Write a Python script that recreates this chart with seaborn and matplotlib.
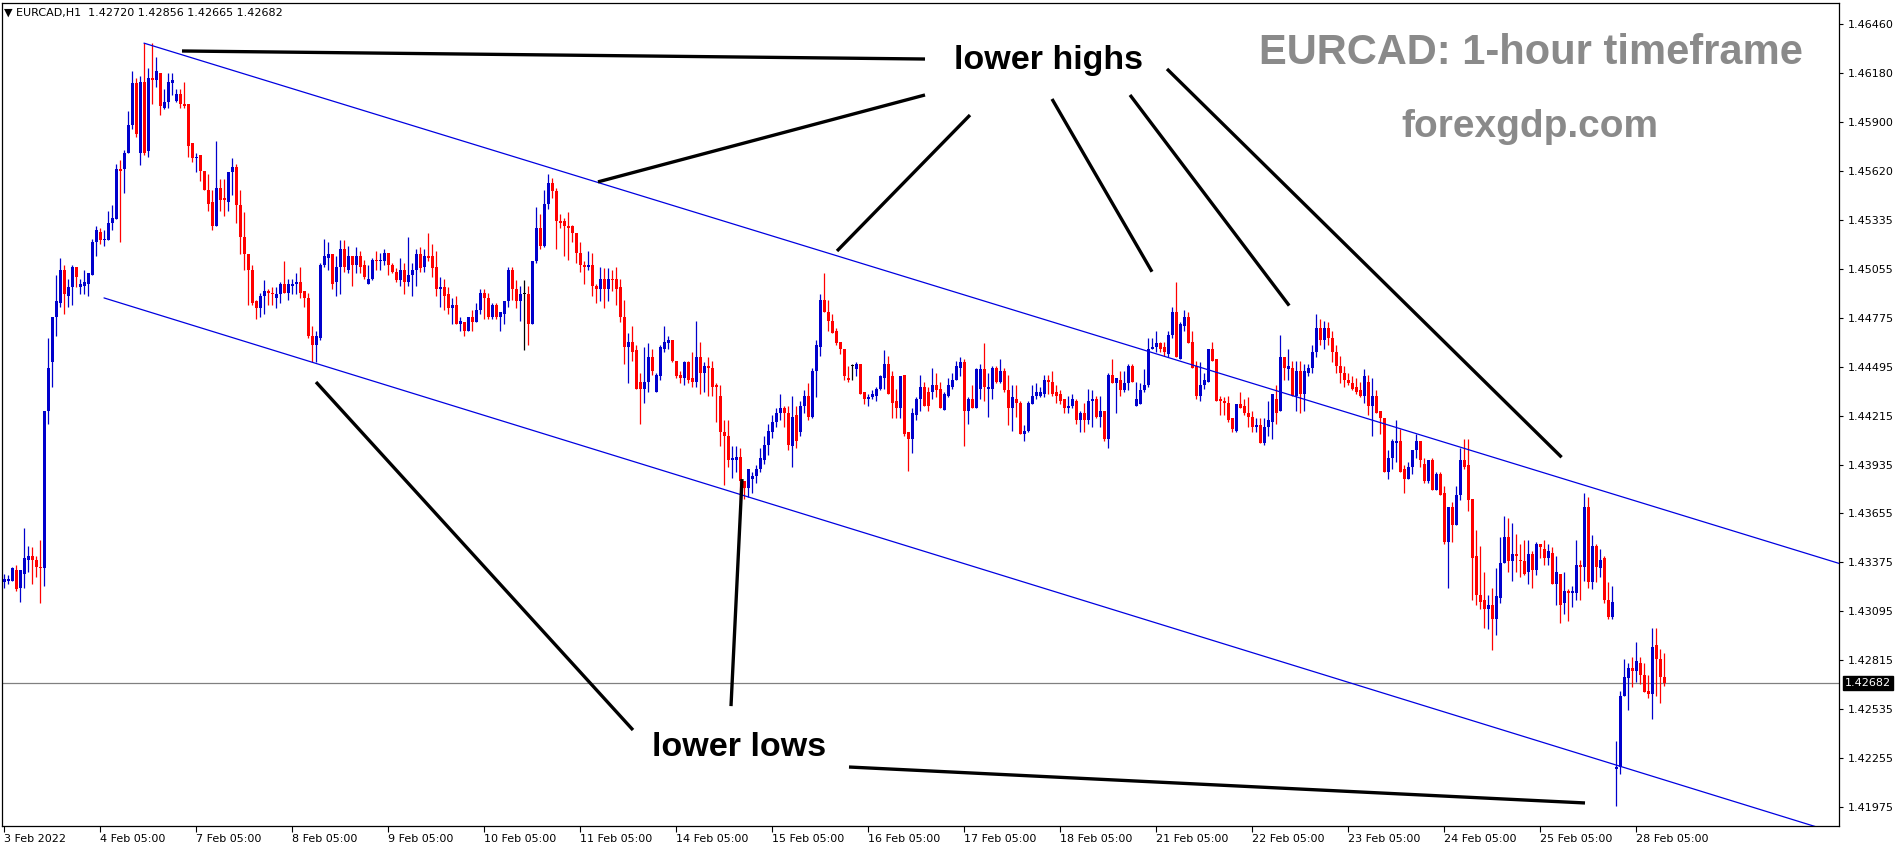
import numpy as np
import pandas as pd
import matplotlib
matplotlib.use('Agg')
import matplotlib.pyplot as plt
import matplotlib.transforms as mtransforms
import seaborn as sns

# EURCAD H1 candles, 3 Feb 05:00 .. 28 Feb 12:00
opens = [
    1.4326, 1.4327, 1.4327, 1.4333, 1.4323, 1.4331, 1.4339, 1.4341, 1.4339, 1.4335,
    1.4334, 1.4424, 1.4452, 1.4478, 1.4486, 1.4505, 1.4490, 1.4495, 1.4507, 1.4495,
    1.4496, 1.4497, 1.4502, 1.4521, 1.4527, 1.4522, 1.4522, 1.4532, 1.4534, 1.4563,
    1.4563, 1.4572, 1.4588, 1.4612, 1.4572, 1.4613, 1.4573, 1.4615, 1.4614, 1.4618,
    1.4598, 1.4601, 1.4612, 1.4602, 1.4606, 1.4600, 1.4600, 1.4578, 1.4569, 1.4571,
    1.4562, 1.4551, 1.4544, 1.4530, 1.4552, 1.4546, 1.4544, 1.4561, 1.4564, 1.4542,
    1.4524, 1.4514, 1.4505, 1.4487, 1.4483, 1.4490, 1.4493, 1.4492, 1.4489, 1.4491,
    1.4497, 1.4492, 1.4496, 1.4497, 1.4498, 1.4493, 1.4489, 1.4467, 1.4462, 1.4466,
    1.4508, 1.4512, 1.4514, 1.4498, 1.4507, 1.4517, 1.4505, 1.4513, 1.4508, 1.4513,
    1.4508, 1.4497, 1.4500, 1.4511, 1.4510, 1.4510, 1.4515, 1.4508, 1.4504, 1.4499,
    1.4505, 1.4498, 1.4502, 1.4505, 1.4514, 1.4507, 1.4513, 1.4513, 1.4507, 1.4494,
    1.4495, 1.4491, 1.4483, 1.4485, 1.4474, 1.4475, 1.4470, 1.4478, 1.4475, 1.4482,
    1.4492, 1.4489, 1.4478, 1.4485, 1.4478, 1.4480, 1.4487, 1.4505, 1.4494, 1.4487,
    1.4491, 1.4491, 1.4474, 1.4510, 1.4529, 1.4519, 1.4543, 1.4555, 1.4550, 1.4533,
    1.4533, 1.4530, 1.4530, 1.4526, 1.4515, 1.4508, 1.4507, 1.4508, 1.4496, 1.4494,
    1.4500, 1.4494, 1.4500, 1.4500, 1.4495, 1.4478, 1.4461, 1.4464, 1.4459, 1.4441,
    1.4437, 1.4441, 1.4455, 1.4435, 1.4444, 1.4460, 1.4463, 1.4465, 1.4453, 1.4445,
    1.4443, 1.4452, 1.4443, 1.4441, 1.4455, 1.4446, 1.4450, 1.4449, 1.4439, 1.4433,
    1.4412, 1.4410, 1.4396, 1.4396, 1.4398, 1.4384, 1.4380, 1.4385, 1.4387, 1.4391,
    1.4396, 1.4405, 1.4412, 1.4418, 1.4423, 1.4426, 1.4423, 1.4404, 1.4422, 1.4412,
    1.4427, 1.4433, 1.4421, 1.4447, 1.4461, 1.4488, 1.4481, 1.4476, 1.4470, 1.4464,
    1.4460, 1.4443, 1.4450, 1.4448, 1.4451, 1.4435, 1.4431, 1.4432, 1.4433, 1.4437,
    1.4443, 1.4451, 1.4444, 1.4430, 1.4426, 1.4445, 1.4412, 1.4408, 1.4422, 1.4431,
    1.4438, 1.4435, 1.4435, 1.4439, 1.4437, 1.4425, 1.4433, 1.4438, 1.4442, 1.4449,
    1.4452, 1.4424, 1.4431, 1.4426, 1.4437, 1.4448, 1.4437, 1.4437, 1.4449, 1.4441,
    1.4447, 1.4436, 1.4426, 1.4431, 1.4429, 1.4411, 1.4413, 1.4428, 1.4433, 1.4433,
    1.4434, 1.4442, 1.4441, 1.4435, 1.4434, 1.4431, 1.4426, 1.4427, 1.4430, 1.4419,
    1.4423, 1.4419, 1.4430, 1.4431, 1.4421, 1.4424, 1.4408, 1.4445, 1.4440, 1.4442,
    1.4436, 1.4440, 1.4450, 1.4427, 1.4428, 1.4436, 1.4439, 1.4460, 1.4461, 1.4463,
    1.4461, 1.4457, 1.4468, 1.4481, 1.4454, 1.4473, 1.4478, 1.4464, 1.4450, 1.4433,
    1.4439, 1.4441, 1.4460, 1.4454, 1.4431, 1.4430, 1.4429, 1.4420, 1.4413, 1.4428,
    1.4427, 1.4423, 1.4421, 1.4415, 1.4416, 1.4406, 1.4415, 1.4418, 1.4431, 1.4424,
    1.4455, 1.4448, 1.4449, 1.4433, 1.4447, 1.4434, 1.4446, 1.4449, 1.4458, 1.4472,
    1.4465, 1.4472, 1.4466, 1.4458, 1.4450, 1.4446, 1.4442, 1.4440, 1.4438, 1.4436,
    1.4433, 1.4441, 1.4427, 1.4433, 1.4424, 1.4420, 1.4389, 1.4397, 1.4406, 1.4407,
    1.4391, 1.4385, 1.4392, 1.4402, 1.4407, 1.4394, 1.4384, 1.4396, 1.4379, 1.4388,
    1.4377, 1.4349, 1.4369, 1.4359, 1.4376, 1.4396, 1.4393, 1.4374, 1.4341, 1.4319,
    1.4316, 1.4311, 1.4313, 1.4305, 1.4317, 1.4337, 1.4352, 1.4338, 1.4342, 1.4339,
    1.4338, 1.4332, 1.4342, 1.4333, 1.4348, 1.4345, 1.4340, 1.4343, 1.4325, 1.4331,
    1.4314, 1.4321, 1.4320, 1.4320, 1.4336, 1.4335, 1.4369, 1.4326, 1.4347, 1.4334,
    1.4340, 1.4316, 1.4306, 1.4219, 1.4220, 1.4261, 1.4271, 1.4277, 1.4275, 1.4280,
    1.4273, 1.4264, 1.4262, 1.4290, 1.4282, 1.42720,
]
highs = [
    1.4331, 1.4330, 1.4335, 1.4336, 1.4333, 1.4357, 1.4347, 1.4346, 1.4341, 1.4350,
    1.4424, 1.4466, 1.4478, 1.4502, 1.4512, 1.4508, 1.4500, 1.4508, 1.4507, 1.4500,
    1.4505, 1.4503, 1.4523, 1.4530, 1.4529, 1.4528, 1.4539, 1.4542, 1.4566, 1.4568,
    1.4574, 1.4596, 1.4619, 1.4615, 1.4616, 1.4635, 1.4621, 1.4635, 1.4627, 1.4618,
    1.4609, 1.4618, 1.4618, 1.4609, 1.4609, 1.4613, 1.4600, 1.4578, 1.4572, 1.4571,
    1.4562, 1.4560, 1.4551, 1.4579, 1.4557, 1.4557, 1.4561, 1.4569, 1.4566, 1.4551,
    1.4538, 1.4514, 1.4508, 1.4488, 1.4492, 1.4499, 1.4494, 1.4495, 1.4495, 1.4498,
    1.4510, 1.4500, 1.4500, 1.4503, 1.4507, 1.4493, 1.4492, 1.4473, 1.4470, 1.4509,
    1.4523, 1.4521, 1.4514, 1.4513, 1.4522, 1.4522, 1.4519, 1.4513, 1.4518, 1.4516,
    1.4511, 1.4508, 1.4512, 1.4516, 1.4515, 1.4517, 1.4515, 1.4509, 1.4506, 1.4512,
    1.4509, 1.4524, 1.4509, 1.4517, 1.4518, 1.4517, 1.4526, 1.4520, 1.4516, 1.4501,
    1.4500, 1.4495, 1.4489, 1.4490, 1.4478, 1.4475, 1.4478, 1.4482, 1.4486, 1.4494,
    1.4494, 1.4492, 1.4486, 1.4486, 1.4481, 1.4487, 1.4507, 1.4507, 1.4499, 1.4496,
    1.4499, 1.4496, 1.4510, 1.4541, 1.4537, 1.4551, 1.4560, 1.4558, 1.4552, 1.4537,
    1.4535, 1.4538, 1.4531, 1.4526, 1.4521, 1.4510, 1.4516, 1.4515, 1.4497, 1.4507,
    1.4506, 1.4506, 1.4505, 1.4507, 1.4500, 1.4488, 1.4469, 1.4473, 1.4462, 1.4446,
    1.4461, 1.4463, 1.4460, 1.4446, 1.4462, 1.4473, 1.4467, 1.4465, 1.4453, 1.4447,
    1.4453, 1.4453, 1.4458, 1.4476, 1.4464, 1.4452, 1.4455, 1.4453, 1.4440, 1.4439,
    1.4419, 1.4419, 1.4404, 1.4404, 1.4403, 1.4384, 1.4391, 1.4389, 1.4393, 1.4403,
    1.4410, 1.4417, 1.4422, 1.4426, 1.4434, 1.4427, 1.4427, 1.4433, 1.4427, 1.4430,
    1.4436, 1.4440, 1.4449, 1.4465, 1.4491, 1.4503, 1.4488, 1.4480, 1.4472, 1.4464,
    1.4460, 1.4450, 1.4451, 1.4452, 1.4451, 1.4435, 1.4434, 1.4436, 1.4438, 1.4445,
    1.4459, 1.4456, 1.4447, 1.4437, 1.4444, 1.4445, 1.4412, 1.4426, 1.4432, 1.4445,
    1.4441, 1.4438, 1.4449, 1.4446, 1.4441, 1.4435, 1.4443, 1.4446, 1.4453, 1.4455,
    1.4454, 1.4432, 1.4439, 1.4449, 1.4451, 1.4463, 1.4446, 1.4450, 1.4450, 1.4454,
    1.4449, 1.4445, 1.4439, 1.4439, 1.4430, 1.4416, 1.4430, 1.4439, 1.4440, 1.4438,
    1.4445, 1.4445, 1.4447, 1.4439, 1.4436, 1.4431, 1.4433, 1.4434, 1.4431, 1.4424,
    1.4429, 1.4437, 1.4436, 1.4433, 1.4433, 1.4424, 1.4446, 1.4454, 1.4443, 1.4447,
    1.4447, 1.4451, 1.4451, 1.4441, 1.4440, 1.4448, 1.4466, 1.4466, 1.4470, 1.4464,
    1.4464, 1.4470, 1.4484, 1.4498, 1.4475, 1.4482, 1.4481, 1.4470, 1.4453, 1.4452,
    1.4446, 1.4460, 1.4464, 1.4454, 1.4433, 1.4432, 1.4433, 1.4420, 1.4428, 1.4435,
    1.4431, 1.4432, 1.4424, 1.4420, 1.4420, 1.4420, 1.4430, 1.4434, 1.4439, 1.4468,
    1.4455, 1.4460, 1.4453, 1.4453, 1.4453, 1.4451, 1.4451, 1.4462, 1.4480, 1.4477,
    1.4476, 1.4475, 1.4470, 1.4462, 1.4456, 1.4450, 1.4446, 1.4444, 1.4443, 1.4441,
    1.4448, 1.4445, 1.4443, 1.4436, 1.4424, 1.4420, 1.4402, 1.4408, 1.4419, 1.4414,
    1.4393, 1.4395, 1.4402, 1.4411, 1.4407, 1.4397, 1.4396, 1.4397, 1.4389, 1.4389,
    1.4381, 1.4369, 1.4372, 1.4381, 1.4403, 1.4408, 1.4408, 1.4374, 1.4356, 1.4347,
    1.4332, 1.4319, 1.4323, 1.4334, 1.4352, 1.4364, 1.4363, 1.4360, 1.4354, 1.4348,
    1.4350, 1.4350, 1.4344, 1.4349, 1.4348, 1.4350, 1.4348, 1.4346, 1.4341, 1.4331,
    1.4332, 1.4322, 1.4324, 1.4350, 1.4339, 1.4377, 1.4375, 1.4353, 1.4348, 1.4345,
    1.4341, 1.4326, 1.4324, 1.4235, 1.4264, 1.4282, 1.4280, 1.4283, 1.4292, 1.4283,
    1.4280, 1.4273, 1.4300, 1.4300, 1.4288, 1.42856,
]
lows = [
    1.4323, 1.4325, 1.4327, 1.4321, 1.4315, 1.4323, 1.4332, 1.4325, 1.4329, 1.4314,
    1.4324, 1.4417, 1.4438, 1.4467, 1.4484, 1.4480, 1.4484, 1.4485, 1.4495, 1.4491,
    1.4491, 1.4490, 1.4502, 1.4513, 1.4520, 1.4519, 1.4522, 1.4528, 1.4534, 1.4521,
    1.4549, 1.4572, 1.4586, 1.4581, 1.4565, 1.4571, 1.4570, 1.4600, 1.4610, 1.4594,
    1.4597, 1.4598, 1.4605, 1.4601, 1.4598, 1.4598, 1.4570, 1.4567, 1.4561, 1.4556,
    1.4551, 1.4539, 1.4528, 1.4530, 1.4539, 1.4536, 1.4539, 1.4548, 1.4532, 1.4514,
    1.4505, 1.4485, 1.4485, 1.4477, 1.4478, 1.4480, 1.4485, 1.4485, 1.4483, 1.4486,
    1.4492, 1.4488, 1.4491, 1.4491, 1.4489, 1.4484, 1.4466, 1.4452, 1.4452, 1.4465,
    1.4507, 1.4505, 1.4494, 1.4490, 1.4491, 1.4504, 1.4503, 1.4496, 1.4503, 1.4503,
    1.4500, 1.4497, 1.4499, 1.4505, 1.4505, 1.4508, 1.4502, 1.4503, 1.4498, 1.4496,
    1.4491, 1.4496, 1.4490, 1.4496, 1.4504, 1.4504, 1.4510, 1.4501, 1.4490, 1.4484,
    1.4482, 1.4480, 1.4474, 1.4474, 1.4470, 1.4467, 1.4470, 1.4470, 1.4475, 1.4480,
    1.4477, 1.4477, 1.4477, 1.4477, 1.4470, 1.4474, 1.4484, 1.4488, 1.4483, 1.4476,
    1.4459, 1.4462, 1.4474, 1.4509, 1.4517, 1.4518, 1.4540, 1.4546, 1.4517, 1.4529,
    1.4513, 1.4511, 1.4521, 1.4509, 1.4504, 1.4497, 1.4505, 1.4490, 1.4486, 1.4487,
    1.4483, 1.4487, 1.4493, 1.4485, 1.4475, 1.4451, 1.4440, 1.4453, 1.4437, 1.4417,
    1.4429, 1.4435, 1.4445, 1.4435, 1.4442, 1.4458, 1.4460, 1.4452, 1.4443, 1.4440,
    1.4439, 1.4440, 1.4438, 1.4438, 1.4434, 1.4435, 1.4433, 1.4433, 1.4418, 1.4404,
    1.4382, 1.4392, 1.4386, 1.4389, 1.4372, 1.4374, 1.4375, 1.4377, 1.4383, 1.4389,
    1.4394, 1.4399, 1.4409, 1.4415, 1.4419, 1.4415, 1.4402, 1.4392, 1.4403, 1.4410,
    1.4423, 1.4419, 1.4420, 1.4432, 1.4456, 1.4481, 1.4470, 1.4469, 1.4462, 1.4457,
    1.4442, 1.4441, 1.4442, 1.4444, 1.4434, 1.4428, 1.4427, 1.4431, 1.4430, 1.4436,
    1.4437, 1.4434, 1.4420, 1.4420, 1.4420, 1.4410, 1.4390, 1.4400, 1.4419, 1.4424,
    1.4427, 1.4424, 1.4431, 1.4432, 1.4426, 1.4425, 1.4432, 1.4437, 1.4442, 1.4444,
    1.4404, 1.4417, 1.4426, 1.4426, 1.4431, 1.4430, 1.4421, 1.4431, 1.4440, 1.4440,
    1.4435, 1.4416, 1.4413, 1.4421, 1.4411, 1.4407, 1.4412, 1.4428, 1.4431, 1.4432,
    1.4432, 1.4434, 1.4433, 1.4429, 1.4428, 1.4423, 1.4423, 1.4426, 1.4417, 1.4412,
    1.4412, 1.4417, 1.4415, 1.4420, 1.4415, 1.4407, 1.4403, 1.4440, 1.4423, 1.4433,
    1.4435, 1.4436, 1.4441, 1.4427, 1.4428, 1.4435, 1.4438, 1.4460, 1.4458, 1.4458,
    1.4456, 1.4455, 1.4466, 1.4455, 1.4454, 1.4470, 1.4463, 1.4449, 1.4431, 1.4430,
    1.4437, 1.4441, 1.4453, 1.4430, 1.4422, 1.4422, 1.4418, 1.4412, 1.4412, 1.4426,
    1.4422, 1.4415, 1.4412, 1.4412, 1.4406, 1.4405, 1.4410, 1.4408, 1.4417, 1.4424,
    1.4442, 1.4442, 1.4433, 1.4424, 1.4423, 1.4424, 1.4444, 1.4446, 1.4455, 1.4462,
    1.4460, 1.4462, 1.4452, 1.4446, 1.4440, 1.4438, 1.4439, 1.4436, 1.4434, 1.4432,
    1.4429, 1.4422, 1.4410, 1.4423, 1.4411, 1.4389, 1.4385, 1.4391, 1.4395, 1.4389,
    1.4377, 1.4385, 1.4388, 1.4397, 1.4392, 1.4383, 1.4383, 1.4379, 1.4379, 1.4376,
    1.4348, 1.4323, 1.4349, 1.4359, 1.4373, 1.4391, 1.4367, 1.4316, 1.4313, 1.4311,
    1.4300, 1.4299, 1.4287, 1.4296, 1.4314, 1.4337, 1.4332, 1.4327, 1.4332, 1.4329,
    1.4330, 1.4325, 1.4323, 1.4330, 1.4340, 1.4336, 1.4336, 1.4325, 1.4313, 1.4303,
    1.4308, 1.4304, 1.4312, 1.4316, 1.4316, 1.4327, 1.4323, 1.4322, 1.4326, 1.4329,
    1.4314, 1.4305, 1.4305, 1.4198, 1.4216, 1.4261, 1.4253, 1.4266, 1.4269, 1.4268,
    1.4263, 1.4260, 1.4248, 1.4261, 1.4257, 1.42665,
]
closes = [
    1.4328, 1.4328, 1.4334, 1.4322, 1.4333, 1.4340, 1.4341, 1.4339, 1.4335, 1.4334,
    1.4424, 1.4449, 1.4478, 1.4487, 1.4505, 1.4491, 1.4495, 1.4507, 1.4501, 1.4497,
    1.4498, 1.4503, 1.4521, 1.4528, 1.4522, 1.4523, 1.4532, 1.4535, 1.4563, 1.4562,
    1.4572, 1.4588, 1.4612, 1.4583, 1.4613, 1.4572, 1.4615, 1.4614, 1.4619, 1.4599,
    1.4601, 1.4613, 1.4614, 1.4606, 1.4600, 1.4599, 1.4576, 1.4569, 1.4570, 1.4562,
    1.4551, 1.4543, 1.4530, 1.4552, 1.4545, 1.4545, 1.4561, 1.4564, 1.4542, 1.4524,
    1.4514, 1.4505, 1.4486, 1.4483, 1.4490, 1.4493, 1.4492, 1.4491, 1.4491, 1.4497,
    1.4492, 1.4497, 1.4497, 1.4498, 1.4492, 1.4489, 1.4467, 1.4462, 1.4467, 1.4508,
    1.4513, 1.4514, 1.4497, 1.4507, 1.4517, 1.4507, 1.4513, 1.4508, 1.4513, 1.4507,
    1.4501, 1.4500, 1.4511, 1.4510, 1.4511, 1.4515, 1.4508, 1.4504, 1.4499, 1.4505,
    1.4498, 1.4502, 1.4505, 1.4514, 1.4506, 1.4513, 1.4512, 1.4506, 1.4494, 1.4495,
    1.4490, 1.4483, 1.4485, 1.4474, 1.4476, 1.4470, 1.4478, 1.4475, 1.4482, 1.4492,
    1.4489, 1.4478, 1.4485, 1.4478, 1.4481, 1.4487, 1.4505, 1.4494, 1.4487, 1.4491,
    1.4491, 1.4474, 1.4510, 1.4529, 1.4519, 1.4543, 1.4555, 1.4550, 1.4533, 1.4532,
    1.4530, 1.4529, 1.4526, 1.4515, 1.4508, 1.4507, 1.4508, 1.4496, 1.4494, 1.4500,
    1.4494, 1.4500, 1.4499, 1.4494, 1.4478, 1.4461, 1.4464, 1.4458, 1.4437, 1.4437,
    1.4441, 1.4455, 1.4447, 1.4445, 1.4461, 1.4464, 1.4465, 1.4453, 1.4444, 1.4443,
    1.4452, 1.4442, 1.4441, 1.4455, 1.4446, 1.4450, 1.4449, 1.4438, 1.4438, 1.4412,
    1.4410, 1.4396, 1.4397, 1.4398, 1.4384, 1.4380, 1.4391, 1.4387, 1.4391, 1.4397,
    1.4405, 1.4413, 1.4418, 1.4423, 1.4426, 1.4423, 1.4405, 1.4421, 1.4407, 1.4427,
    1.4433, 1.4421, 1.4447, 1.4462, 1.4488, 1.4481, 1.4476, 1.4469, 1.4463, 1.4460,
    1.4444, 1.4442, 1.4450, 1.4451, 1.4434, 1.4431, 1.4432, 1.4434, 1.4437, 1.4444,
    1.4451, 1.4434, 1.4429, 1.4426, 1.4444, 1.4411, 1.4408, 1.4423, 1.4431, 1.4438,
    1.4427, 1.4427, 1.4439, 1.4436, 1.4426, 1.4434, 1.4439, 1.4442, 1.4450, 1.4452,
    1.4424, 1.4431, 1.4426, 1.4448, 1.4448, 1.4438, 1.4438, 1.4449, 1.4441, 1.4447,
    1.4436, 1.4426, 1.4432, 1.4429, 1.4411, 1.4413, 1.4429, 1.4433, 1.4435, 1.4435,
    1.4442, 1.4441, 1.4434, 1.4433, 1.4430, 1.4426, 1.4427, 1.4431, 1.4419, 1.4423,
    1.4419, 1.4430, 1.4431, 1.4421, 1.4424, 1.4408, 1.4445, 1.4440, 1.4443, 1.4436,
    1.4440, 1.4450, 1.4441, 1.4431, 1.4436, 1.4439, 1.4460, 1.4461, 1.4463, 1.4460,
    1.4458, 1.4468, 1.4481, 1.4455, 1.4474, 1.4478, 1.4463, 1.4449, 1.4433, 1.4439,
    1.4442, 1.4460, 1.4453, 1.4430, 1.4430, 1.4429, 1.4419, 1.4414, 1.4428, 1.4426,
    1.4423, 1.4421, 1.4415, 1.4416, 1.4406, 1.4415, 1.4419, 1.4434, 1.4423, 1.4455,
    1.4449, 1.4450, 1.4433, 1.4447, 1.4434, 1.4447, 1.4449, 1.4458, 1.4472, 1.4465,
    1.4472, 1.4466, 1.4458, 1.4450, 1.4446, 1.4442, 1.4440, 1.4437, 1.4435, 1.4433,
    1.4444, 1.4427, 1.4433, 1.4423, 1.4420, 1.4389, 1.4397, 1.4407, 1.4407, 1.4389,
    1.4385, 1.4392, 1.4402, 1.4407, 1.4396, 1.4384, 1.4396, 1.4379, 1.4388, 1.4376,
    1.4349, 1.4369, 1.4359, 1.4376, 1.4396, 1.4392, 1.4373, 1.4340, 1.4319, 1.4315,
    1.4311, 1.4313, 1.4305, 1.4318, 1.4337, 1.4352, 1.4338, 1.4342, 1.4341, 1.4338,
    1.4331, 1.4342, 1.4333, 1.4348, 1.4346, 1.4340, 1.4344, 1.4325, 1.4332, 1.4313,
    1.4321, 1.4320, 1.4321, 1.4336, 1.4335, 1.4369, 1.4326, 1.4347, 1.4335, 1.4339,
    1.4316, 1.4306, 1.4315, 1.4220, 1.4261, 1.4272, 1.4277, 1.4275, 1.4281, 1.4273,
    1.4263, 1.4262, 1.4289, 1.4282, 1.4272, 1.42682,
]

# bottom axis labels (one every 24 bars)
tick_bars = [0, 24, 48, 72, 96, 120, 144, 168, 192, 216, 240, 264, 288, 312, 336, 360, 384, 408]
tick_labels = ['3 Feb 2022', '4 Feb 05:00', '7 Feb 05:00', '8 Feb 05:00', '9 Feb 05:00',
               '10 Feb 05:00', '11 Feb 05:00', '14 Feb 05:00', '15 Feb 05:00', '16 Feb 05:00',
               '17 Feb 05:00', '18 Feb 05:00', '21 Feb 05:00', '22 Feb 05:00', '23 Feb 05:00',
               '24 Feb 05:00', '25 Feb 05:00', '28 Feb 05:00']
price_ticks = [1.46460, 1.46180, 1.45900, 1.45620, 1.45335, 1.45055, 1.44775, 1.44495,
               1.44215, 1.43935, 1.43655, 1.43375, 1.43095, 1.42815, 1.42535, 1.42255, 1.41975]

# descending channel (bar index, price)
channel_bar = [35, 460, 25, 460]
channel_price = [1.4635, 1.4336, 1.4489, 1.4181]
channel_name = ['upper', 'upper', 'lower', 'lower']

# hand-drawn pointer lines: (bar, price) -> (bar, price)
pointers = [
    ((44.5, 1.46305), (230.25, 1.46259)),
    ((148.5, 1.45555), (230.25, 1.46053)),
    ((208.25, 1.45159), (241.5, 1.45938)),
    ((262.0, 1.46030), (287.0, 1.45040)),
    ((281.5, 1.46053), (321.3, 1.44846)),
    ((290.75, 1.46202), (389.4, 1.43977)),
    ((78.0, 1.44408), (157.25, 1.42414)),
    ((184.5, 1.43852), (181.75, 1.42551)),
    ((211.25, 1.42202), (395.25, 1.41996)),
]

BULL = '#0000CC'
BEAR = '#FF0000'
DOJI = '#000000'

sns.set_style('white')
plt.rcParams['font.family'] = ['DejaVu Sans']

o = np.array(opens)
h = np.array(highs)
l = np.array(lows)
c = np.array(closes)
bars = np.arange(len(c))

fig = plt.figure(figsize=(19.02, 8.5), dpi=100)
ax = fig.add_axes([2 / 1902, 24 / 850, 1837 / 1902, 823 / 850])

colors = np.where(c > o, BULL, np.where(c < o, BEAR, DOJI))
ax.vlines(bars, l, h, colors=colors, lw=0.9, zorder=3)
body_low = np.minimum(o, c)
body_h = np.maximum(np.abs(c - o), 0.00006)
ax.bar(bars, body_h, bottom=body_low, width=0.75, color=colors, linewidth=0, zorder=4)

chan = pd.DataFrame({'bar': channel_bar, 'price': channel_price, 'line': channel_name})
sns.lineplot(data=chan, x='bar', y='price', units='line', estimator=None,
             color='#0000E0', lw=0.9, ax=ax, legend=False, zorder=5)

for (x0, y0), (x1, y1) in pointers:
    ax.plot([x0, x1], [y0, y1], color='black', lw=2.4, solid_capstyle='butt', zorder=6)

# current price line + label
ax.axhline(c[-1], color='#808080', lw=0.9, zorder=2)
trans = mtransforms.blended_transform_factory(ax.transAxes, ax.transData)
ax.text(1.003, c[-1], f'{c[-1]:.5f}', transform=trans, ha='left', va='center',
        fontsize=8, color='white', clip_on=False, zorder=10,
        bbox=dict(boxstyle='square,pad=0.18', fc='black', ec='black'))

ax.set_xlim(-0.5, 458.75)
ax.set_ylim(1.41864, 1.46580)
ax.set_xlabel('')
ax.set_ylabel('')

ax.set_xticks(tick_bars)
ax.set_xticklabels(tick_labels, ha='left')
ax.tick_params(axis='x', bottom=True, direction='out', length=4, width=0.8,
               pad=2, labelsize=8, colors='black')
ax.yaxis.tick_right()
ax.set_yticks(price_ticks)
ax.set_yticklabels([f'{p:.5f}' for p in price_ticks])
ax.tick_params(axis='y', right=True, left=False, direction='out', length=3, width=0.8,
               pad=3, labelsize=8, colors='black')
for s in ax.spines.values():
    s.set_color('black')
    s.set_linewidth(0.9)

fig.text(4 / 1902, 1 - 13 / 850,
         f'\u25BC EURCAD,H1  {o[-1]:.5f} {h[-1]:.5f} {l[-1]:.5f} {c[-1]:.5f}',
         fontsize=8, va='center', ha='left', color='black')

bold = ['Liberation Sans', 'DejaVu Sans']
fig.text(1049 / 1902, 1 - 60 / 850, 'lower highs', family=bold, weight='bold',
         fontsize=24.5, ha='center', va='center', color='black')
fig.text(739 / 1902, 1 - 747 / 850, 'lower lows', family=bold, weight='bold',
         fontsize=24.5, ha='center', va='center', color='black')
fig.text(1531 / 1902, 1 - 53 / 850, 'EURCAD: 1-hour timeframe', family=bold, weight='bold',
         fontsize=30, ha='center', va='center', color='#8a8a8a')
fig.text(1530 / 1902, 1 - 127 / 850, 'forexgdp.com', family=bold, weight='bold',
         fontsize=28, ha='center', va='center', color='#8a8a8a')

fig.savefig('out.png', dpi=100)
